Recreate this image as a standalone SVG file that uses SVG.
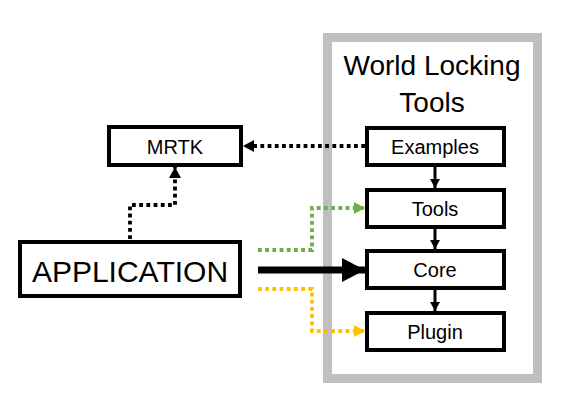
<svg xmlns="http://www.w3.org/2000/svg" width="576" height="409" viewBox="0 0 576 409">
<style>
.box{fill:#fff;stroke:#000;stroke-width:4}
.t{font-family:"Liberation Sans",Arial,sans-serif;fill:#000;text-anchor:middle}
.dot{fill:none;stroke-width:3.8;stroke-dasharray:3.8 3.4}
.solid{fill:none;stroke:#000}
</style>
<defs>
<marker id="ak" markerUnits="userSpaceOnUse" markerWidth="12" markerHeight="12" refX="11" refY="6" orient="auto"><path d="M0,0 L11,6 L0,12 z" fill="#000"/></marker>
<marker id="ag" markerUnits="userSpaceOnUse" markerWidth="12" markerHeight="12" refX="11" refY="6" orient="auto"><path d="M0,0 L11,6 L0,12 z" fill="#70ad47"/></marker>
<marker id="ay" markerUnits="userSpaceOnUse" markerWidth="12" markerHeight="12" refX="11" refY="6" orient="auto"><path d="M0,0 L11,6 L0,12 z" fill="#ffc000"/></marker>
<marker id="as" markerUnits="userSpaceOnUse" markerWidth="10" markerHeight="10" refX="9" refY="5" orient="auto"><path d="M0,0 L9,5 L0,10 z" fill="#000"/></marker>
<marker id="abig" markerUnits="userSpaceOnUse" markerWidth="24" markerHeight="24" refX="23" refY="12" orient="auto"><path d="M0,0 L23,12 L0,24 z" fill="#000"/></marker>
</defs>
<rect width="576" height="409" fill="#fff"/>
<g id="frame">
<rect x="327.5" y="37.5" width="210" height="341" fill="#fff" stroke="#bfbfbf" stroke-width="9"/>
<text class="t" x="432" y="75" font-size="28">World Locking</text>
<text class="t" x="432" y="112" font-size="28">Tools</text>
</g>
<g id="connectors">
<path class="dot" stroke="#000" d="M365,146 H243" marker-end="url(#ak)"/>
<path class="dot" stroke="#000" d="M130,239 V205 H175 V167" marker-end="url(#ak)"/>
<path class="dot" stroke="#70ad47" d="M258,250 H312 V208 H365" marker-end="url(#ag)"/>
<path class="dot" stroke="#ffc000" d="M258,289 H312 V331 H365" marker-end="url(#ay)"/>
<path class="solid" stroke-width="7" d="M258,270 H365" marker-end="url(#abig)"/>
<path class="solid" stroke-width="3" d="M435,167 V188" marker-end="url(#as)"/>
<path class="solid" stroke-width="3" d="M435,229 V249" marker-end="url(#as)"/>
<path class="solid" stroke-width="3" d="M435,290 V311" marker-end="url(#as)"/>
</g>
<g id="mrtk">
<rect class="box" x="109" y="127" width="132" height="38"/>
<text class="t" x="175" y="154" font-size="20">MRTK</text>
</g>
<g id="application">
<rect class="box" x="20" y="242" width="220" height="54" stroke-width="6"/>
<text class="t" x="130" y="282" font-size="30">APPLICATION</text>
</g>
<g id="examples">
<rect class="box" x="367" y="128" width="137" height="37"/>
<text class="t" x="435" y="154" font-size="20">Examples</text>
</g>
<g id="tools">
<rect class="box" x="367" y="190" width="137" height="37"/>
<text class="t" x="435" y="216" font-size="20">Tools</text>
</g>
<g id="core">
<rect class="box" x="367" y="251" width="137" height="37"/>
<text class="t" x="435" y="277" font-size="20">Core</text>
</g>
<g id="plugin">
<rect class="box" x="367" y="313" width="137" height="37"/>
<text class="t" x="435" y="339" font-size="20">Plugin</text>
</g>
</svg>
